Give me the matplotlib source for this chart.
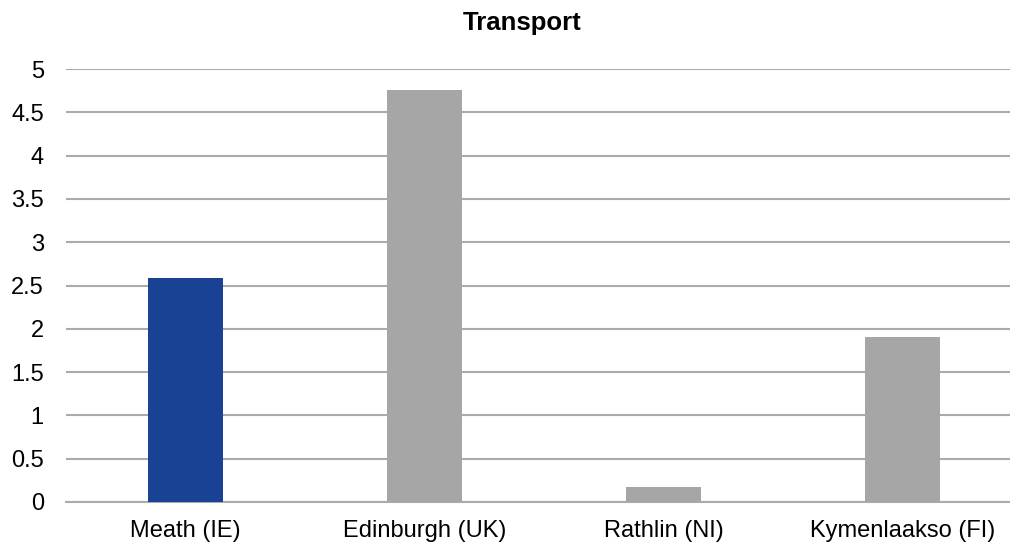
import numpy as np
import matplotlib.pyplot as plt

plt.rcParams['font.family'] = ['Liberation Sans', 'DejaVu Sans']

regions = ['Meath (IE)', 'Edinburgh (UK)', 'Rathlin (NI)', 'Kymenlaakso (FI)']
transport = [2.59, 4.76, 0.17, 1.91]
bar_colors = ['#1A4294', '#A6A6A6', '#A6A6A6', '#A6A6A6']
y_ticks = [0, 0.5, 1, 1.5, 2, 2.5, 3, 3.5, 4, 4.5, 5]
y_labels = ['0', '0.5', '1', '1.5', '2', '2.5', '3', '3.5', '4', '4.5', '5']

fig = plt.figure(figsize=(10.10, 5.44), dpi=100)
ax = fig.add_axes([66 / 1010, 1 - 502 / 544, (1010 - 66) / 1010, (502 - 69) / 544])

x = np.arange(len(regions))
ax.bar(x, transport, width=0.314, color=bar_colors, zorder=3)

ax.set_xlim(-0.5, 3.45)
ax.set_ylim(0, 5)
ax.set_yticks(y_ticks)
ax.set_yticklabels(y_labels)
ax.set_xticks(x)
ax.set_xticklabels(regions)
ax.tick_params(axis='y', length=0, pad=16, labelsize=17)
ax.tick_params(axis='x', length=0, pad=13, labelsize=17)
ax.yaxis.grid(True, color='#ABABAB', linewidth=1.5, zorder=0)
ax.set_axisbelow(True)
for side in ['top', 'right', 'left', 'bottom']:
	ax.spines[side].set_visible(False)
ax.axhline(0, color='#ABABAB', linewidth=1.5, zorder=2, clip_on=False)

fig.text(522 / 1010, 1 - 23 / 544, 'Transport', ha='center', va='center', fontsize=18.5, fontweight='bold')

fig.savefig('out.png', dpi=100)
plt.close(fig)
